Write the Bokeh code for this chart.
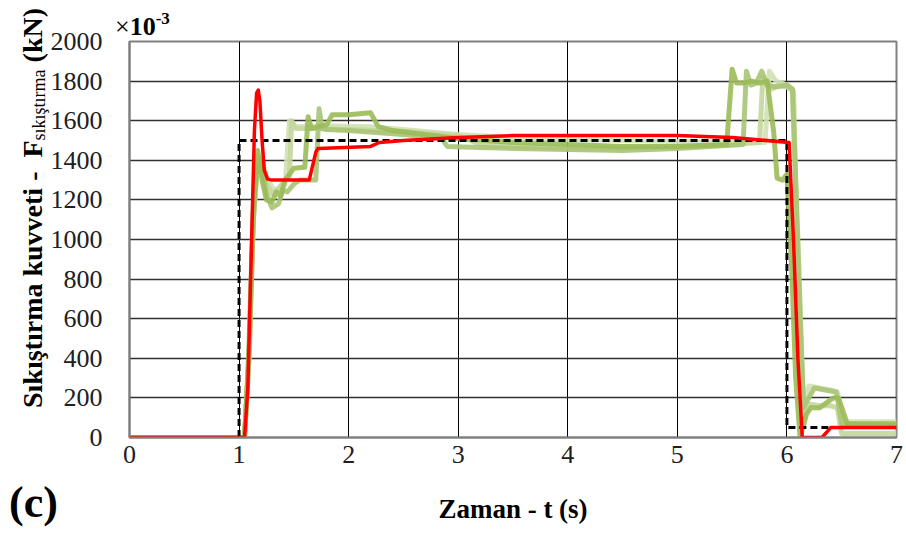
from bokeh.plotting import figure
from bokeh.models import Range1d, FixedTicker, Div
from bokeh.layouts import column
from bokeh.embed import file_html
from bokeh.resources import INLINE

# Time axis (s) and compression force (x10^-3 kN)
x_ticks = [0, 1, 2, 3, 4, 5, 6, 7]
y_ticks = [0, 200, 400, 600, 800, 1000, 1200, 1400, 1600, 1800, 2000]

# Reference (commanded) force
t_ref = [0, 1.0, 1.0, 6.0, 6.0, 7.0]
f_ref = [0, 0, 1500, 1500, 50, 50]

# Controlled force response
t_red = [0, 1.05, 1.08, 1.11, 1.14, 1.16, 1.175, 1.19, 1.21, 1.23, 1.26, 1.3,
         1.64, 1.7, 1.72, 2.2, 2.28, 2.5, 3.0, 3.5, 4.0, 4.5, 5.0, 5.5, 6.02,
         6.06, 6.1, 6.14, 6.32, 6.4, 7.0]
f_red = [0, 0, 250, 900, 1550, 1740, 1755, 1700, 1500, 1350, 1305, 1300,
         1300, 1440, 1460, 1470, 1490, 1500, 1515, 1525, 1525, 1525, 1525, 1515, 1490,
         1000, 400, 0, 0, 50, 50]

# Measured force runs
t_g1 = [0, 1.05, 1.09, 1.13, 1.17, 1.21, 1.25, 1.3, 1.34, 1.38, 1.42, 1.46, 1.5, 1.6,
        1.63, 1.66, 1.72, 1.8, 1.85, 2.0, 2.2, 2.27, 2.4, 3.0, 3.5, 4.0, 4.5, 5.0,
        5.45, 5.5, 5.54, 5.6, 5.68, 5.75, 5.82, 5.88, 5.91, 5.96, 6.0, 6.04, 6.08,
        6.12, 6.18, 6.22, 6.3, 6.42, 6.47, 6.55, 7.0]
f_g1 = [0, 0, 450, 1150, 1450, 1300, 1200, 1190, 1240, 1220, 1300, 1330, 1360, 1365,
        1620, 1560, 1570, 1580, 1630, 1630, 1640, 1570, 1550, 1510, 1490, 1480, 1470, 1470,
        1480, 1860, 1790, 1790, 1800, 1790, 1800, 1540, 1310, 1300, 1330, 900, 300,
        0, 120, 150, 150, 200, 200, 70, 70]

t_g2 = [0, 1.05, 1.09, 1.13, 1.17, 1.21, 1.25, 1.3, 1.36, 1.4, 1.44, 1.47, 1.5, 1.55,
        1.7, 1.73, 1.76, 1.8, 2.0, 2.5, 2.85, 2.9, 3.2, 3.5, 4.0, 4.5, 5.0, 5.6, 5.63,
        5.67, 5.72, 5.77, 5.82, 5.9, 6.0, 6.05, 6.1, 6.15, 6.2, 6.25, 6.35, 6.45, 6.5, 7.0]
f_g2 = [0, 0, 400, 1100, 1400, 1350, 1230, 1160, 1180, 1250, 1240, 1260, 1280, 1300,
        1300, 1660, 1560, 1555, 1550, 1530, 1510, 1470, 1465, 1460, 1455, 1450, 1460, 1480, 1850,
        1780, 1790, 1850, 1780, 1770, 1780, 1760, 1000, 150, 200, 250, 240, 230, 70, 60]

t_g3 = [0, 1.05, 1.09, 1.13, 1.17, 1.21, 1.25, 1.3, 1.35, 1.42, 1.46, 1.48, 1.52, 1.7,
        2.0, 2.5, 3.0, 3.2, 3.5, 4.0, 4.5, 5.0, 5.5, 5.75, 5.78, 5.82, 5.86, 5.92, 6.0,
        6.06, 6.1, 6.16, 6.2, 6.3, 6.4, 6.46, 6.5, 7.0]
f_g3 = [0, 0, 400, 1100, 1420, 1380, 1280, 1230, 1250, 1300, 1320, 1600, 1560, 1560,
        1555, 1545, 1525, 1480, 1470, 1465, 1460, 1470, 1480, 1490, 1820, 1780, 1760, 1780, 1770,
        1750, 800, 100, 170, 160, 160, 150, 20, 20]

t_g4 = [0, 1.05, 1.09, 1.13, 1.17, 1.21, 1.26, 1.32, 1.38, 1.42, 1.46, 1.5, 1.8, 2.2,
        2.6, 3.0, 3.5, 4.0, 4.5, 5.0, 5.5, 5.8, 5.84, 5.9, 6.0, 6.05, 6.1, 6.15, 6.2,
        6.3, 6.4, 6.46, 6.52, 7.0]
f_g4 = [0, 0, 400, 1100, 1420, 1400, 1300, 1250, 1260, 1280, 1600, 1570, 1575, 1570,
        1550, 1530, 1515, 1505, 1500, 1495, 1490, 1490, 1850, 1800, 1780, 1760, 900, 150, 260,
        250, 240, 230, 80, 80]

SERIF = "Liberation Serif"
W, H = 906, 536

p = figure(width=W, height=H, output_backend="svg", toolbar_location=None,
           x_range=Range1d(0, 7), y_range=Range1d(0, 2000),
           min_border_left=129, min_border_right=10, min_border_top=41, min_border_bottom=99)
p.background_fill_color = "white"
p.border_fill_color = "white"
p.outline_line_color = "#808080"
p.outline_line_width = 2

p.xaxis.ticker = FixedTicker(ticks=x_ticks)
p.yaxis.ticker = FixedTicker(ticks=y_ticks)
for ax in (p.xaxis[0], p.yaxis[0]):
    ax.axis_line_color = "#808080"
    ax.axis_line_width = 2
    ax.major_tick_line_color = None
    ax.minor_tick_line_color = None
    ax.major_tick_out = 0
    ax.major_tick_in = 0
    ax.major_label_text_font = SERIF
    ax.major_label_text_font_size = "26px"
    ax.major_label_text_color = "#202020"
p.yaxis.major_label_standoff = 27
p.xaxis.major_label_standoff = 8

p.xaxis.axis_label = "Zaman - t (s)"
p.xaxis.axis_label_text_font = SERIF
p.xaxis.axis_label_text_font_style = "bold"
p.xaxis.axis_label_text_font_size = "27px"
p.xaxis.axis_label_text_color = "black"
p.xaxis.axis_label_standoff = 28

p.xgrid.grid_line_color = "black"
p.xgrid.grid_line_width = 1
p.ygrid.grid_line_color = "#303030"
p.ygrid.grid_line_width = 1.3

greens = [("#9BBB59", t_g1, f_g1), ("#A9C476", t_g2, f_g2),
          ("#C3D69B", t_g3, f_g3), ("#D2E1B6", t_g4, f_g4)]
for col, tt, ff in reversed(greens):
    p.line(tt, ff, line_color=col, line_width=5, line_alpha=0.9, line_join="round")

p.line(t_ref, f_ref, line_color="black", line_width=3, line_dash="7 4")
p.line(t_red, f_red, line_color="#FF0000", line_width=3.5, line_join="round")

# Titles around the plot area (rich text: subscript / superscript), laid over the chart.
# Each span uses line-height 1, so its top sits 0.84 em above the baseline.
ytitle = (
    '<span style="position:absolute;left:14px;top:408px;font-size:28px;font-weight:bold;'
    'white-space:nowrap;transform:rotate(-90deg);transform-origin:0 0;">'
    'Sıkıştırma kuvveti - &nbsp;F'
    '<span style="font-size:18px;font-weight:normal;position:relative;top:3px;">sıkıştırma</span>'
    ' (kN)</span>'
)
scale = (
    '<span style="position:absolute;left:110px;top:14px;font-size:26px;white-space:nowrap;">'
    '×<b>10</b><b style="font-size:17px;position:relative;top:-11px;">-3</b></span>'
)
tag = ('<span style="position:absolute;left:4px;top:481px;font-size:44px;font-weight:bold;">'
       '(c)</span>')
overlay = Div(
    text=(f'<div style="position:relative;width:{W}px;height:{H}px;line-height:1;'
          f'font-family:\'{SERIF}\';color:black;pointer-events:none;">'
          + ytitle + scale + tag + '</div>'),
    width=W, height=H, styles={"margin-top": f"-{H}px"},
)

open("out.html", "w").write(file_html(column(p, overlay, spacing=0), INLINE))
